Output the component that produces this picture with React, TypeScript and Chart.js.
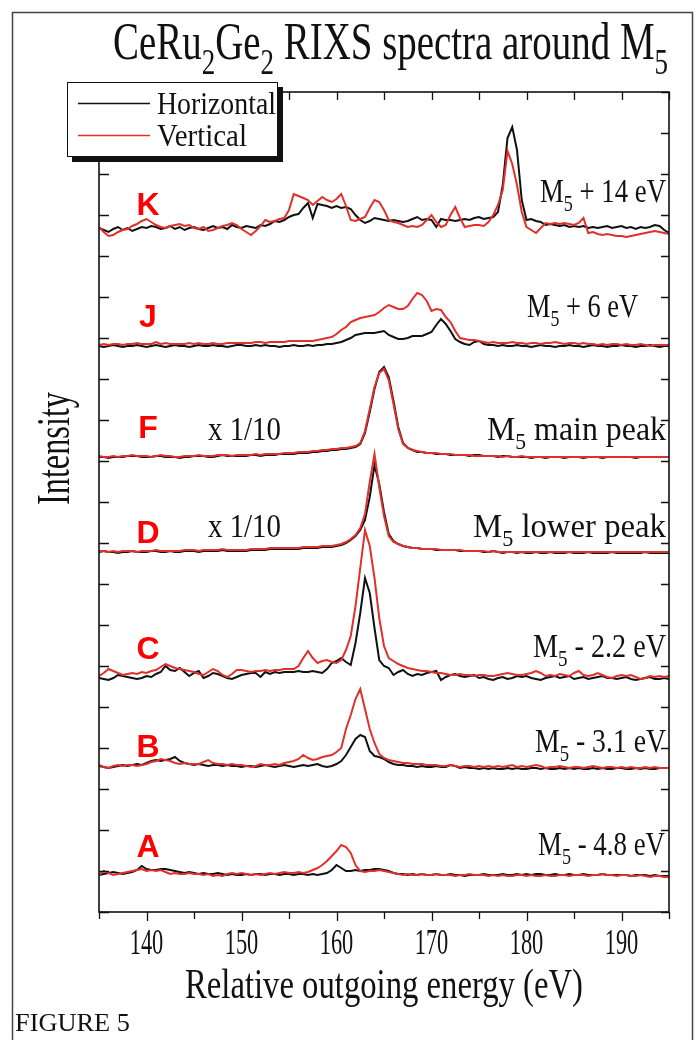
import React, { useEffect, useRef } from "react";
import { Chart, registerables } from "chart.js";

Chart.register(...registerables);

// ---------------- data ----------------
const ENERGY_EV = [
  135, 135.5, 136, 136.5, 137, 137.5, 138, 138.5, 139, 139.5,
  140, 140.5, 141, 141.5, 142, 142.5, 143, 143.5, 144, 144.5,
  145, 145.5, 146, 146.5, 147, 147.5, 148, 148.5, 149, 149.5,
  150, 150.5, 151, 151.5, 152, 152.5, 153, 153.5, 154, 154.5,
  155, 155.5, 156, 156.5, 157, 157.5, 158, 158.5, 159, 159.5,
  160, 160.5, 161, 161.5, 162, 162.5, 163, 163.5, 164, 164.5,
  165, 165.5, 166, 166.5, 167, 167.5, 168, 168.5, 169, 169.5,
  170, 170.5, 171, 171.5, 172, 172.5, 173, 173.5, 174, 174.5,
  175, 175.5, 176, 176.5, 177, 177.5, 178, 178.5, 179, 179.5,
  180, 180.5, 181, 181.5, 182, 182.5, 183, 183.5, 184, 184.5,
  185, 185.5, 186, 186.5, 187, 187.5, 188, 188.5, 189, 189.5,
  190, 190.5, 191, 191.5, 192, 192.5, 193, 193.5, 194, 194.5,
  195,
];

const X_TICK_LABELS = ["140", "150", "160", "170", "180", "190"];
const POLARIZATIONS = ["Horizontal", "Vertical"];
const SPECTRUM_LETTERS = ["K", "J", "F", "D", "C", "B", "A"];
const SPECTRUM_ENERGIES = [" + 14 eV", " + 6 eV", " main peak", " lower peak", " - 2.2 eV", " - 3.1 eV", " - 4.8 eV"];
const SPECTRUM_SCALE_NOTES = ["", "", "x 1/10", "x 1/10", "", "", ""];
const SPECTRUM_OFFSETS = [682, 566, 455, 360, 234, 145, 39];

const K_HORIZONTAL = [
  2, 0, -2, 1, 3, 0, 2, -1, 1, 3,
  2, 4, 3, 1, 2, 4, 1, 3, 0, 2,
  3, 1, 0, 2, 4, 2, 3, 1, 5, 3,
  2, 4, 3, 2, 5, 4, 6, 9, 8, 10,
  13, 15, 16, 22, 27, 12, 26, 25, 24, 22,
  24, 22, 23, 21, 15, 10, 7, 9, 12, 11,
  10, 9, 10, 9, 8, 9, 11, 13, 10, 11,
  10, 3, 11, 10, 10, 9, 10, 11, 10, 12,
  13, 11, 12, 13, 18, 45, 92, 103, 80, 30,
  10, 11, 9, 8, 5, 6, 5, 4, 5, 3,
  4, 3, 4, 2, 3, 2, 3, 4, 2, 3,
  4, 2, 3, 1, 3, 2, 3, 5, 4, 0,
  -3,
];
const K_VERTICAL = [
  3, -2, -6, -5, -2, 0, 1, 4, 6, 9,
  11, 8, 5, 3, 2, 4, 5, 6, 4, 5,
  2, 1, 3, -1, 0, 2, 4, 5, 7, 5,
  1, -2, -5, -1, 4, 10, 8, 9, 11, 12,
  20, 36, 34, 32, 30, 25, 29, 33, 30, 28,
  31, 36, 24, 10, 9, 11, 13, 22, 30, 28,
  20, 10, 8, 7, 5, 3, 4, 3, 5, 10,
  15, 8, 3, 5, 15, 23, 12, 3, 4, 5,
  5, 4, 8, 15, 25, 40, 79, 66, 45, 18,
  3, 0, -3, 2, 7, 6, 7, 6, 7, 6,
  5, 7, 12, -3, -2, -4, -5, -4, -5, -6,
  -6, -7, -6, -5, -4, -3, -2, -1, -2, -3,
  -4,
];
const J_HORIZONTAL = [
  0, -1, 0, 1, 0, -1, 0, 0, 1, 0,
  -1, 0, 1, 0, -1, 0, 1, 0, 0, -1,
  0, 1, 0, 0, 1, 0, 0, -1, 0, 1,
  1, 0, 0, 1, 0, 1, 0, 0, -1, 0,
  0, 1, 0, 0, 1, 0, 1, 1, 2, 2,
  3, 4, 6, 8, 11, 12, 13, 13, 13, 14,
  15, 11, 9, 7, 7, 8, 10, 10, 10, 12,
  14, 21, 27, 22, 15, 7, 4, 2, 1, 4,
  5, 2, 1, 1, 0, 1, 0, 0, 1, 0,
  0, -1, 0, 1, 0, 0, -1, 0, 0, 1,
  0, 0, -1, 0, 1, 0, 0, -1, 0, 0,
  1, 0, 0, -1, 0, 0, 1, 0, -1, 0,
  0,
];
const J_VERTICAL = [
  1, 2, 1, 2, 2, 1, 2, 2, 3, 2,
  2, 2, 4, 2, 3, 2, 2, 2, 2, 3,
  2, 3, 2, 2, 3, 2, 2, 3, 3, 3,
  3, 3, 3, 4, 4, 3, 4, 4, 4, 4,
  5, 5, 5, 5, 5, 5, 6, 7, 8, 9,
  12, 16, 19, 24, 26, 28, 29, 30, 31, 34,
  38, 41, 39, 37, 37, 40, 47, 53, 51, 45,
  35, 37, 36, 29, 24, 15, 8, 7, 6, 6,
  5, 4, 3, 4, 3, 3, 3, 4, 3, 3,
  2, 3, 3, 2, 3, 3, 4, 3, 2, 3,
  3, 2, 3, 2, 2, 1, 2, 1, 2, 2,
  1, 2, 1, 1, 2, 1, 0, 1, 1, 1,
  1,
];
const F_HORIZONTAL = [
  0, 0, -1, 0, 0, 0, 1, 1, 1, 0,
  0, 0, 1, 1, 0, 0, 0, -1, 0, 0,
  1, 1, 1, 0, 0, 1, 2, 1, 1, 1,
  1, 1, 2, 2, 1, 2, 2, 2, 3, 3,
  3, 3, 4, 4, 4, 5, 5, 6, 6, 7,
  7, 8, 8, 9, 10, 13, 24, 45, 68, 85,
  90, 80, 56, 30, 14, 9, 7, 5, 5, 4,
  4, 3, 3, 3, 2, 2, 2, 2, 1, 2,
  2, 1, 1, 1, 0, 1, 1, 0, 0, 0,
  0, -1, 0, 0, -1, 0, 0, 0, -1, 0,
  0, 0, -1, 0, 0, 0, -1, 0, 0, 0,
  0, 0, 0, -1, 0, 0, 0, 0, 0, 0,
  0,
];
const F_VERTICAL = [
  1, 0, 0, 1, 0, 1, 1, 2, 1, 1,
  1, 0, 1, 2, 1, 1, 0, 0, 1, 1,
  1, 2, 1, 1, 1, 2, 2, 2, 1, 2,
  2, 2, 2, 3, 2, 3, 3, 3, 3, 4,
  4, 4, 5, 5, 5, 6, 6, 7, 7, 8,
  8, 9, 9, 10, 11, 14, 26, 48, 70, 84,
  88, 77, 53, 28, 13, 9, 7, 6, 5, 4,
  4, 4, 3, 3, 3, 2, 2, 2, 2, 1,
  1, 1, 1, 1, 1, 0, 1, 0, 0, 1,
  0, 0, 0, 0, 0, 0, 0, 0, 0, 0,
  0, 0, 0, 0, 0, 0, 0, 0, 0, 0,
  0, 0, 0, 0, 0, 0, 0, 0, 0, 0,
  0,
];
const D_HORIZONTAL = [
  0, 1, 0, 0, -1, 0, 0, 1, 0, 0,
  0, 1, 1, 0, 0, 1, 0, 0, 1, 1,
  1, 0, 1, 1, 1, 1, 2, 1, 1, 1,
  1, 1, 2, 2, 2, 2, 3, 3, 3, 3,
  3, 3, 3, 4, 4, 4, 4, 5, 5, 5,
  6, 7, 9, 12, 16, 22, 32, 55, 87, 68,
  40, 18, 11, 8, 6, 5, 4, 4, 3, 3,
  3, 2, 2, 2, 2, 2, 1, 1, 1, 1,
  1, 0, 0, 1, 0, -1, 0, 0, -1, 0,
  -1, -1, 0, -1, -1, 0, -1, -1, -1, 0,
  -1, -1, -1, 0, -1, -1, -1, -1, 0, -1,
  -1, -1, -1, -1, -1, 0, -1, -1, -1, -1,
  -1,
];
const D_VERTICAL = [
  1, 1, 0, 1, 0, 1, 1, 1, 0, 1,
  1, 1, 2, 1, 1, 1, 1, 1, 2, 2,
  2, 1, 2, 2, 2, 2, 3, 2, 2, 2,
  2, 2, 3, 3, 3, 3, 4, 4, 4, 4,
  4, 4, 4, 5, 5, 5, 5, 6, 6, 6,
  7, 8, 10, 13, 17, 24, 38, 70, 98, 65,
  36, 16, 10, 8, 6, 5, 4, 4, 3, 3,
  3, 3, 2, 2, 2, 2, 2, 1, 1, 1,
  1, 1, 0, 1, 0, 0, 0, 0, 0, 0,
  0, 0, 0, 0, 0, 0, 0, 0, 0, 0,
  0, 0, 0, 0, 0, 0, 0, 0, 0, 0,
  0, 0, 0, 0, 0, 0, 0, 0, 0, 0,
  0,
];
const C_HORIZONTAL = [
  0, -1, -2, 0, 3, 2, 1, 0, -1, 0,
  2, 1, 4, 6, 12, 8, 7, 10, 6, 2,
  5, 7, 0, 2, 5, 4, 2, 0, -1, 1,
  3, 4, 5, 5, 1, 6, 4, 6, 5, 6,
  6, 6, 7, 6, 6, 7, 6, 5, 9, 15,
  17, 20, 16, 13, 35, 65, 100, 85, 50, 18,
  12, 10, 3, 6, 8, 4, 2, 4, 3, 5,
  6, 7, -2, 1, 3, 4, 2, 1, 2, 3,
  0, 1, -1, -2, 0, 1, -1, 0, 2, 1,
  2, 0, -1, -2, 0, 1, 2, 0, 1, 2,
  -1, 0, 1, -1, 0, 1, 2, 0, 0, -1,
  0, 1, -1, -2, -1, 0, 1, -1, -1, 0,
  -1,
];
const C_VERTICAL = [
  2, 5, 9, 7, 5, 3, 4, 5, 4, 6,
  5, 7, 8, 11, 14, 12, 10, 9, 8, 7,
  6, 4, 3, 6, 9, 7, 3, 1, 4, 8,
  8, 7, 6, 7, 7, 8, 7, 8, 8, 9,
  9, 9, 12, 20, 27, 20, 15, 17, 18, 16,
  15, 18, 28, 42, 72, 110, 148, 132, 100, 60,
  32, 20, 17, 14, 12, 10, 9, 8, 7, 7,
  6, 5, 5, 4, 3, 3, 4, 3, 3, 2,
  3, 3, 2, 2, 3, 4, 5, 4, 3, 3,
  4, 5, 7, 5, 2, 3, 2, 4, 3, 2,
  5, 7, 3, 2, 3, 5, 3, 1, 0, 2,
  3, 2, 3, 1, -1, 0, 2, 1, 2, 1,
  2,
];
const B_HORIZONTAL = [
  1, 0, -1, 0, 1, 2, 1, 2, 3, 2,
  4, 6, 7, 6, 7, 8, 10, 6, 4, 3,
  2, 3, 2, 1, 2, 2, 1, 2, 1, 1,
  0, 1, 1, 0, 1, 2, 1, 0, 1, 2,
  1, 0, 1, 2, 1, 2, 3, 1, 0, 1,
  3, 6, 12, 20, 28, 32, 30, 16, 11, 10,
  8, 5, 3, 2, 2, 1, 1, 0, 1, 0,
  0, 1, 0, 0, 2, 1, -1, 0, -1, -1,
  -2, -1, -2, -1, -2, -2, -1, -2, -1, -2,
  -2, -1, -1, -2, -1, -2, -2, -1, -2, -1,
  -2, -1, -2, -2, -1, -2, -1, -2, -2, -1,
  -1, -2, -2, -1, -2, -1, -2, -2, -1, -1,
  -1,
];
const B_VERTICAL = [
  2, 0, -1, 1, 2, 1, 2, 2, 1, 2,
  3, 5, 6, 8, 7, 6, 4, 3, 4, 3,
  3, 3, 5, 7, 4, 3, 3, 2, 3, 2,
  2, 1, 0, 1, 3, 2, 2, 3, 2, 4,
  5, 6, 8, 12, 9, 7, 8, 10, 11, 12,
  15, 19, 38, 52, 68, 78, 58, 38, 24, 13,
  9, 7, 6, 5, 4, 4, 3, 3, 3, 2,
  2, 2, 1, 1, 2, 1, 0, 1, 1, 0,
  1, 0, 1, 0, 1, 0, 1, 2, 0, 1,
  0, 1, 2, 1, -1, 0, 0, 1, 0, -1,
  0, 0, -1, 0, 1, 0, -1, 0, 0, -1,
  0, -1, 0, -1, -1, 0, -1, 0, -1, -1,
  -1,
];
const A_HORIZONTAL = [
  -2, -1, 0, 1, 0, -1, 0, 1, 3, 7,
  4, 3, 3, 4, 4, 3, 2, 1, 0, 1,
  0, -1, 0, -1, -1, 0, -1, -2, -1, -2,
  -2, -1, -2, -1, -1, -2, -1, -1, -2, -1,
  -1, -2, -1, -1, -2, -1, -2, -1, 0, 3,
  8, 5, 2, 2, 3, 2, 3, 3, 4, 4,
  3, 2, 0, -1, -1, -2, -1, -2, -1, -2,
  -2, -1, -2, -2, -1, -2, -2, -3, -2, -2,
  -2, -1, -2, -2, -2, -1, -2, -2, -1, -2,
  -1, -2, -1, -1, -2, -2, -1, -2, -2, -1,
  -2, -2, -1, -2, -2, -2, -1, -2, -2, -2,
  -2, -2, -3, -2, -2, -2, -3, -2, -3, -3,
  -3,
];
const A_VERTICAL = [
  -2, 2, 0, -2, -1, 0, 1, 2, 3, 4,
  2, 3, 2, 3, 1, -1, 0, -1, -1, 0,
  -1, -1, -2, -1, -3, -2, -3, -1, 0, -1,
  0, -1, -2, -1, -2, -1, 0, -1, 0, 1,
  0, 0, 1, 0, 1, 3, 5, 8, 12, 17,
  22, 28, 26, 20, 8, 2, 1, 2, 2, 3,
  2, 1, 0, -1, -2, -1, -2, -2, -1, -2,
  -2, -1, -2, -2, -2, -3, -2, -2, -1, -2,
  -2, -2, -3, -2, -3, -2, -3, -3, -2, -2,
  -3, -2, -3, -3, -2, -3, -3, -2, -2, -3,
  -2, -2, -2, -3, -2, -2, -1, -2, -2, -3,
  -2, -2, -3, -3, -2, -3, -4, -3, -3, -4,
  -4,
];

const HORIZONTAL_SERIES = [K_HORIZONTAL, J_HORIZONTAL, F_HORIZONTAL, D_HORIZONTAL, C_HORIZONTAL, B_HORIZONTAL, A_HORIZONTAL];
const VERTICAL_SERIES = [K_VERTICAL, J_VERTICAL, F_VERTICAL, D_VERTICAL, C_VERTICAL, B_VERTICAL, A_VERTICAL];

// ---------------- styles / layout ----------------
const BLACK = "#111111";
const RED = "#e0302c";
const SERIF = "'Liberation Serif', 'Times New Roman', serif";
const SANS = "'Liberation Sans', Arial, sans-serif";

// label layout (pixel positions)
const LETTER_X = 148;
const LETTER_BASELINES = [215, 327, 438, 543, 659, 757, 857];
const RIGHT_LABEL_X0 = [540, 527, 487, 473, 533, 535, 538];
const RIGHT_LABEL_X1 = [666, 638, 666, 666, 666, 666, 665];
const RIGHT_LABEL_BASELINES = [202, 317, 440, 537, 657, 752, 855];
const NOTE_BASELINES = [0, 0, 440, 537, 0, 0, 0];

type Seg = { t: string; size: number; dy: number };

function drawRich(ctx: CanvasRenderingContext2D, segs: Seg[], x0: number, x1: number, baseline: number, family: string) {
  let w = 0;
  segs.forEach((s) => {
    ctx.font = `${s.size}px ${family}`;
    w += ctx.measureText(s.t).width;
  });
  const sx = (x1 - x0) / w;
  ctx.save();
  ctx.translate(x0, baseline);
  ctx.scale(sx, 1);
  ctx.textAlign = "left";
  ctx.textBaseline = "alphabetic";
  let cx = 0;
  segs.forEach((s) => {
    ctx.font = `${s.size}px ${family}`;
    ctx.fillText(s.t, cx, s.dy);
    cx += ctx.measureText(s.t).width;
  });
  ctx.restore();
}

function drawCentered(ctx: CanvasRenderingContext2D, text: string, cx: number, baseline: number, size: number, sx: number, family: string) {
  ctx.save();
  ctx.translate(cx, baseline);
  ctx.scale(sx, 1);
  ctx.font = `${size}px ${family}`;
  ctx.textAlign = "center";
  ctx.textBaseline = "alphabetic";
  ctx.fillText(text, 0, 0);
  ctx.restore();
}

const decorPlugin = {
  id: "figureDecor",
  afterDraw(chart: any) {
    const { ctx, chartArea: ca } = chart;
    const xs = chart.scales.x;
    const ys = chart.scales.y;
    ctx.save();
    ctx.fillStyle = BLACK;
    ctx.strokeStyle = BLACK;

    // outer figure frame
    ctx.lineWidth = 1.5;
    ctx.strokeStyle = "#444";
    ctx.beginPath();
    ctx.moveTo(12.5, 1040);
    ctx.lineTo(12.5, 12.5);
    ctx.lineTo(692.5, 12.5);
    ctx.lineTo(692.5, 1040);
    ctx.stroke();

    // plot frame
    ctx.strokeStyle = BLACK;
    ctx.lineWidth = 1.6;
    ctx.strokeRect(ca.left, ca.top, ca.right - ca.left, ca.bottom - ca.top);

    // y ticks (inward, both sides)
    ctx.lineWidth = 1.3;
    ys.ticks.forEach((t: any) => {
      const py = Math.round(ys.getPixelForValue(t.value)) + 0.5;
      ctx.beginPath();
      ctx.moveTo(ca.left, py);
      ctx.lineTo(ca.left + 10, py);
      ctx.moveTo(ca.right, py);
      ctx.lineTo(ca.right - 8, py);
      ctx.stroke();
    });
    // x ticks: outward at bottom, inward at top
    xs.ticks.forEach((t: any) => {
      const px = Math.round(xs.getPixelForValue(t.value)) + 0.5;
      const major = t.value % 10 === 0;
      ctx.beginPath();
      ctx.moveTo(px, ca.bottom);
      ctx.lineTo(px, ca.bottom + (major ? 9 : 7));
      ctx.moveTo(px, ca.top);
      ctx.lineTo(px, ca.top + 8);
      ctx.stroke();
    });

    // x tick labels
    xs.ticks.forEach((t: any) => {
      const label = String(t.value);
      if (!X_TICK_LABELS.includes(label)) return;
      drawCentered(ctx, label, xs.getPixelForValue(t.value), 954, 35, 0.64, SERIF);
    });

    // x title
    drawRich(ctx, [{ t: "Relative outgoing energy (eV)", size: 43, dy: 0 }], 185, 583, 998, SERIF);

    // y title
    ctx.save();
    ctx.translate(69, 505);
    ctx.rotate(-Math.PI / 2);
    drawRich(ctx, [{ t: "Intensity", size: 46, dy: 0 }], 0, 113, 0, SERIF);
    ctx.restore();

    // main title
    drawRich(
      ctx,
      [
        { t: "CeRu", size: 52, dy: 0 },
        { t: "2", size: 36, dy: 15 },
        { t: "Ge", size: 52, dy: 0 },
        { t: "2", size: 36, dy: 15 },
        { t: " RIXS spectra around M", size: 52, dy: 0 },
        { t: "5", size: 36, dy: 15 },
      ],
      113,
      668,
      59,
      SERIF
    );

    // figure caption
    drawRich(ctx, [{ t: "FIGURE 5", size: 26, dy: 0 }], 15, 130, 1031, SERIF);

    // spectrum labels
    SPECTRUM_LETTERS.forEach((letter, i) => {
      ctx.save();
      ctx.fillStyle = "#ff0000";
      ctx.font = `bold 32px ${SANS}`;
      ctx.textAlign = "center";
      ctx.textBaseline = "alphabetic";
      ctx.fillText(letter, LETTER_X, LETTER_BASELINES[i]);
      ctx.restore();
      drawRich(
        ctx,
        [
          { t: "M", size: 34, dy: 0 },
          { t: "5", size: 23, dy: 9 },
          { t: SPECTRUM_ENERGIES[i], size: 34, dy: 0 },
        ],
        RIGHT_LABEL_X0[i],
        RIGHT_LABEL_X1[i],
        RIGHT_LABEL_BASELINES[i],
        SERIF
      );
      if (SPECTRUM_SCALE_NOTES[i]) {
        drawRich(ctx, [{ t: SPECTRUM_SCALE_NOTES[i], size: 34, dy: 0 }], 208, 281, NOTE_BASELINES[i], SERIF);
      }
    });

    // legend with drop shadow
    const lx = 67, ly = 82, lw = 211, lh = 75;
    ctx.fillStyle = BLACK;
    ctx.fillRect(lx + 5, ly + 5, lw, lh);
    ctx.fillStyle = "#ffffff";
    ctx.fillRect(lx, ly, lw, lh);
    ctx.strokeStyle = BLACK;
    ctx.lineWidth = 1;
    ctx.strokeRect(lx + 0.5, ly + 0.5, lw - 1, lh - 1);
    const legendColors = [BLACK, RED];
    const legendY = [103, 135];
    const legendX1 = [276, 247];
    POLARIZATIONS.forEach((name, i) => {
      ctx.strokeStyle = legendColors[i];
      ctx.lineWidth = 1.5;
      ctx.beginPath();
      ctx.moveTo(78, legendY[i] + 0.5);
      ctx.lineTo(150, legendY[i] + 0.5);
      ctx.stroke();
      ctx.fillStyle = BLACK;
      drawRich(ctx, [{ t: name, size: 31, dy: 0 }], 157, legendX1[i], legendY[i] + 11, SERIF);
    });

    ctx.restore();
  },
};

export default function App() {
  const canvasRef = useRef<HTMLCanvasElement | null>(null);

  useEffect(() => {
    const canvas = canvasRef.current;
    if (!canvas) return;
    const datasets: any[] = [];
    SPECTRUM_LETTERS.forEach((letter, s) => {
      [HORIZONTAL_SERIES, VERTICAL_SERIES].forEach((group, p) => {
        const values = group[s];
        datasets.push({
          label: `${letter} ${POLARIZATIONS[p]}`,
          data: ENERGY_EV.map((e, i) => ({ x: e, y: values[i] + SPECTRUM_OFFSETS[s] })),
          borderColor: p === 0 ? BLACK : RED,
          borderWidth: 2,
          pointRadius: 0,
          tension: 0,
          fill: false,
          order: p === 0 ? 1 : 0,
        });
      });
    });

    const chart = new Chart(canvas, {
      type: "line",
      data: { datasets },
      options: {
        responsive: false,
        animation: false,
        devicePixelRatio: 1,
        layout: { padding: { left: 99, right: 29, top: 92, bottom: 128 } },
        plugins: { legend: { display: false }, tooltip: { enabled: false }, title: { display: false } },
        scales: {
          x: { type: "linear", display: false, min: 135, max: 195, ticks: { stepSize: 5 } },
          y: { type: "linear", display: false, min: 0, max: 820, ticks: { stepSize: 41 } },
        },
      },
      plugins: [decorPlugin],
    });
    return () => chart.destroy();
  }, []);

  return (
    <div style={{ position: "absolute", left: 0, top: 0, width: 698, height: 1040, background: "#fff" }}>
      <canvas ref={canvasRef} width={698} height={1040} style={{ width: 698, height: 1040, display: "block" }} />
    </div>
  );
}
